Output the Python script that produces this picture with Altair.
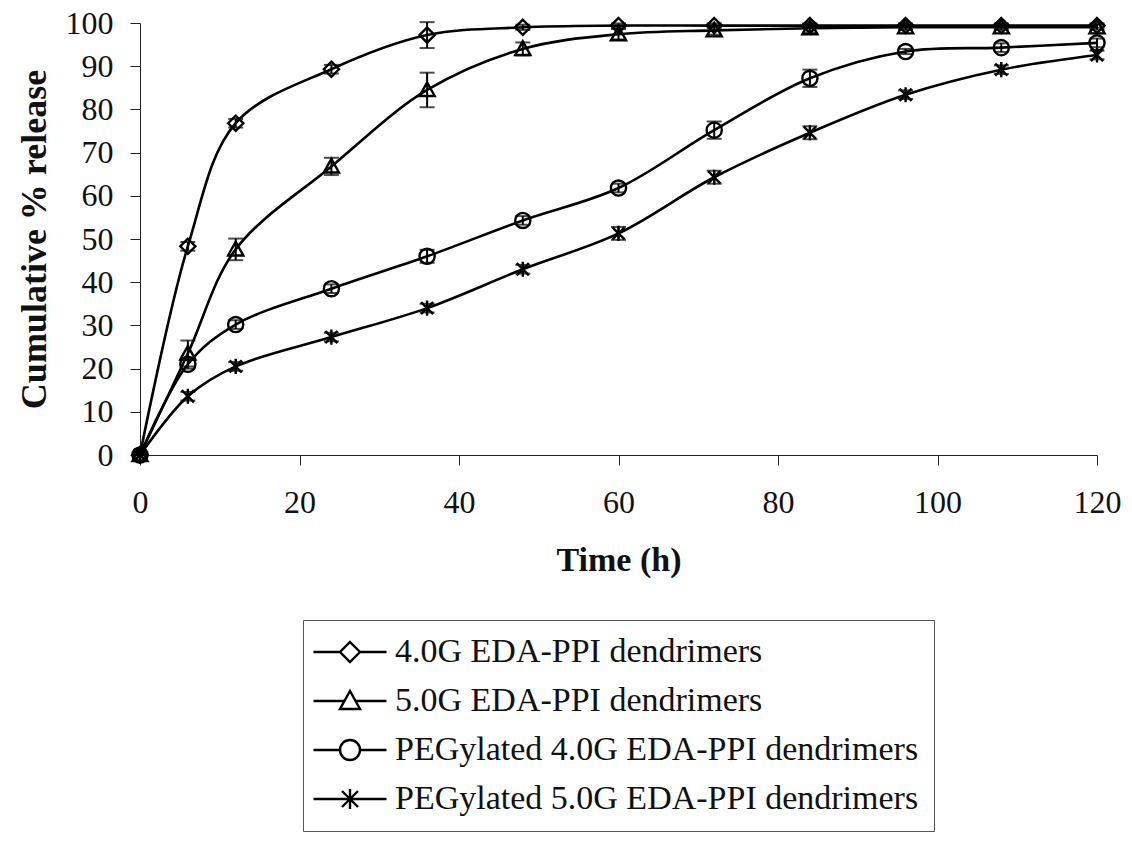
import altair as alt
import pandas as pd

# ---- data ----
time_h = [0, 6, 12, 24, 36, 48, 60, 72, 84, 96, 108, 120]

series_names = [
    "4.0G EDA-PPI dendrimers",
    "5.0G EDA-PPI dendrimers",
    "PEGylated 4.0G EDA-PPI dendrimers",
    "PEGylated 5.0G EDA-PPI dendrimers",
]

g4_release = [0, 48.3, 76.8, 89.3, 97.2, 99.0, 99.4, 99.4, 99.4, 99.4, 99.4, 99.4]
g5_release = [0, 23.5, 47.6, 66.8, 84.5, 94.0, 97.4, 98.3, 98.8, 99.0, 99.0, 99.0]
peg4_release = [0, 21.0, 30.2, 38.5, 46.0, 54.3, 61.8, 75.2, 87.2, 93.4, 94.3, 95.4]
peg5_release = [0, 13.6, 20.5, 27.3, 34.0, 43.0, 51.3, 64.3, 74.6, 83.4, 89.2, 92.6]

g4_err = [0, 1.0, 1.0, 1.0, 3.0, 0.6, 0.5, 0.5, 0.5, 0.5, 0.5, 0.5]
g5_err = [0, 3.0, 2.5, 2.0, 4.0, 1.5, 1.2, 1.0, 1.0, 0.6, 0.6, 0.6]
peg4_err = [0, 1.0, 1.0, 1.0, 1.5, 1.0, 1.0, 2.0, 2.0, 0.6, 1.0, 1.0]
peg5_err = [0, 1.0, 1.0, 1.0, 1.0, 1.0, 1.5, 1.5, 1.5, 1.0, 1.0, 1.0]

y_ticks = [0, 10, 20, 30, 40, 50, 60, 70, 80, 90, 100]
x_ticks = [0, 20, 40, 60, 80, 100, 120]

# ---- build long table ----
rows = []
for name, vals, errs in zip(series_names,
                            [g4_release, g5_release, peg4_release, peg5_release],
                            [g4_err, g5_err, peg4_err, peg5_err]):
    for t, v, e in zip(time_h, vals, errs):
        rows.append({"series": name, "time": t, "release": v,
                     "lo": v - e, "hi": v + e})
df = pd.DataFrame(rows)

# marker shapes (hollow)
diamond = "M0,-1L1,0L0,1L-1,0Z"
triangle = "M0,-1L1,0.8L-1,0.8Z"
circle = "M1,0A1,1,0,1,1,-1,0A1,1,0,1,1,1,0Z"
star = "M0,-1L0,1M-0.8,-0.8L0.8,0.8M-0.8,0.8L0.8,-0.8"
marker_paths = [diamond, triangle, circle, star]

# legend symbols: line segment + marker
L = 3.65
legend_paths = [
    f"M-{L},0L-1,0M1,0L{L},0" + diamond,
    f"M-{L},0L-0.55,0M0.55,0L{L},0" + triangle,
    f"M-{L},0L-1,0M1,0L{L},0" + circle,
    f"M-{L},0L{L},0" + star,
]

FONT = "Liberation Serif"

x_enc = alt.X("time:Q",
              scale=alt.Scale(domain=[0, 120], nice=False, zero=False),
              axis=alt.Axis(values=x_ticks, title="Time (h)", grid=False,
                            tickSize=10, labelPadding=22, titlePadding=25,
                            labelFlush=False,
                            labelFontSize=32, titleFontSize=34,
                            titleFontWeight="bold", labelFont=FONT, titleFont=FONT,
                            domainColor="#222", tickColor="#222",
                            labelColor="#111", titleColor="#111"))
y_enc = alt.Y("release:Q",
              scale=alt.Scale(domain=[0, 100], nice=False),
              axis=alt.Axis(values=y_ticks, title="Cumulative % release",
                            grid=False, tickSize=10, labelPadding=17,
                            titlePadding=12, labelFontSize=32,
                            labelFlush=False,
                            titleFontSize=36, titleFontWeight="bold",
                            labelFont=FONT, titleFont=FONT,
                            domainColor="#222", tickColor="#222",
                            labelColor="#111", titleColor="#111"))

base = alt.Chart(df)

lines = base.mark_line(interpolate="catmull-rom", color="black",
                       strokeWidth=2.6).encode(
    x=x_enc, y=y_enc, detail="series:N")

err_rule = base.mark_rule(color="black", strokeWidth=2).encode(
    x="time:Q", y="lo:Q", y2="hi:Q")
cap_hi = base.mark_tick(color="black", thickness=2, size=15,
                        orient="horizontal").encode(x="time:Q", y="hi:Q")
cap_lo = base.mark_tick(color="black", thickness=2, size=15,
                        orient="horizontal").encode(x="time:Q", y="lo:Q")

points = base.mark_point(filled=False, color="black", strokeWidth=2.4,
                         size=230, opacity=1).encode(
    x="time:Q", y="release:Q",
    shape=alt.Shape("series:N",
                    scale=alt.Scale(domain=series_names, range=marker_paths),
                    legend=None))

legend_layer = base.mark_point(filled=False, color="black", opacity=0,
                               size=1).encode(
    x="time:Q", y="release:Q",
    shape=alt.Shape("series:N",
                    scale=alt.Scale(domain=series_names, range=legend_paths),
                    legend=alt.Legend(
                        title=None, orient="none", legendX=163, legendY=597,
                        direction="vertical",
                        symbolSize=400, symbolStrokeWidth=2.4,
                        symbolStrokeColor="black", symbolFillColor="transparent",
                        symbolOpacity=1, symbolOffset=15,
                        labelOffset=28, labelFont=FONT, labelFontSize=34,
                        labelColor="#111", labelLimit=900, rowPadding=15,
                        strokeColor="#555", padding=15, fillColor="white")))

chart = alt.layer(lines, err_rule, cap_hi, cap_lo, points, legend_layer).resolve_scale(
    shape="independent"
).properties(
    width=957, height=432,
    autosize=alt.AutoSizeParams(type="none"),
    padding={"left": 140, "top": 23, "right": 35, "bottom": 386},
    background="white",
).configure_view(stroke=None)

chart.save("out.html", embed_options={"renderer": "svg", "actions": False})
